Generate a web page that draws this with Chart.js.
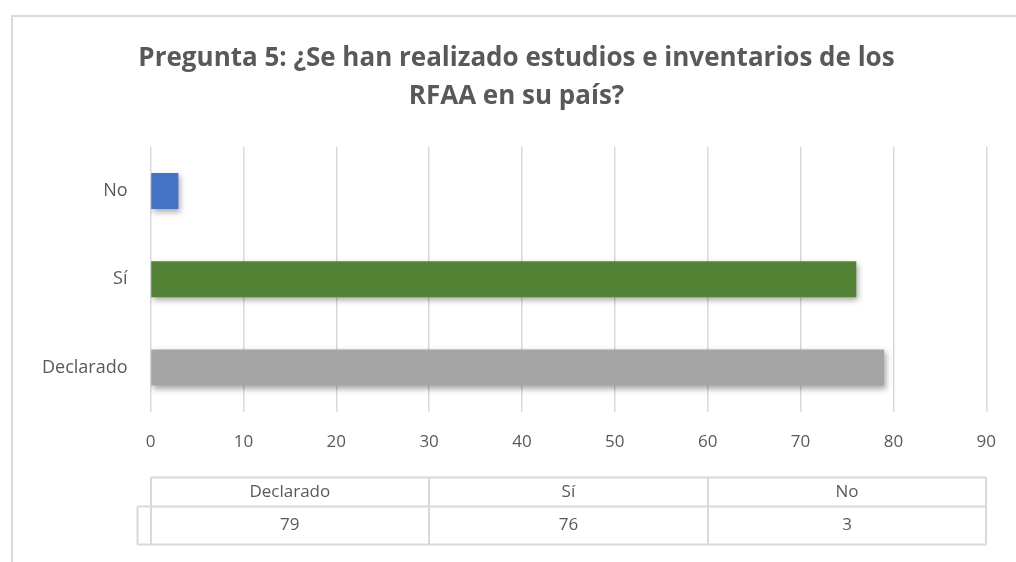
<!DOCTYPE html>
<html>
<head>
<meta charset="utf-8">
<script src="https://cdn.jsdelivr.net/npm/chart.js@4.4.0/dist/chart.umd.min.js"></script>
<style>
  html, body { margin: 0; padding: 0; background: #fff; }
  #wrap { width: 1016px; height: 562px; position: relative; }
</style>
</head>
<body>
<div id="wrap"><canvas id="chart"></canvas></div>
<script>
const categories = ['Declarado', 'Sí', 'No'];
const values = [79, 76, 3];
const barColors = ['#a5a5a5', '#548235', '#4472c4'];
const titleLines = ['Pregunta 5: ¿Se han realizado estudios e inventarios de los', 'RFAA en su país?'];

const FONT = '"Open Sans", "Liberation Sans", sans-serif';
const TEXT = '#595959';
const GRID = '#d9d9d9';

// frame round the chart
const framePlugin = {
  id: 'frame',
  beforeDraw(chart) {
    const ctx = chart.ctx;
    ctx.save();
    ctx.strokeStyle = GRID;
    ctx.lineWidth = 2;
    ctx.beginPath();
    ctx.moveTo(12, 600);
    ctx.lineTo(12, 16);
    ctx.lineTo(1100, 16);
    ctx.stroke();
    ctx.restore();
  }
};

// soft shadow under the bars
const shadowPlugin = {
  id: 'barShadow',
  beforeDatasetsDraw(chart) {
    const ctx = chart.ctx;
    ctx.save();
    ctx.shadowColor = 'rgba(0,0,0,0.35)';
    ctx.shadowBlur = 6;
    ctx.shadowOffsetX = 2;
    ctx.shadowOffsetY = 3;
  },
  afterDatasetsDraw(chart) {
    chart.ctx.restore();
  }
};

// data table under the x axis
const tablePlugin = {
  id: 'dataTable',
  afterDraw(chart) {
    const ctx = chart.ctx;
    const a = chart.chartArea;
    const top = a.bottom + 66;
    const headH = 29;
    const bodyH = 38;
    const colW = (a.right - a.left) / categories.length;
    ctx.save();
    ctx.strokeStyle = GRID;
    ctx.lineWidth = 2;
    ctx.beginPath();
    ctx.moveTo(a.left, top); ctx.lineTo(a.right, top);
    ctx.moveTo(a.left - 13, top + headH); ctx.lineTo(a.right, top + headH);
    ctx.moveTo(a.left - 13, top + headH + bodyH); ctx.lineTo(a.right, top + headH + bodyH);
    for (let i = 0; i <= categories.length; i++) {
      const x = Math.round(a.left + i * colW);
      ctx.moveTo(x, top); ctx.lineTo(x, top + headH + bodyH);
    }
    ctx.moveTo(a.left - 13, top + headH); ctx.lineTo(a.left - 13, top + headH + bodyH);
    ctx.stroke();
    ctx.fillStyle = TEXT;
    ctx.font = '17px ' + FONT;
    ctx.textAlign = 'center';
    ctx.textBaseline = 'middle';
    categories.forEach((c, i) => {
      const cx = a.left + (i + 0.5) * colW;
      ctx.fillText(c, cx, top + headH / 2);
      ctx.fillText(String(values[i]), cx, top + headH + bodyH / 2);
    });
    ctx.restore();
  }
};

new Chart(document.getElementById('chart'), {
  type: 'bar',
  data: {
    labels: categories,
    datasets: [{
      data: values,
      backgroundColor: barColors,
      borderWidth: 0,
      barPercentage: 0.41,
      categoryPercentage: 1
    }]
  },
  options: {
    indexAxis: 'y',
    responsive: true,
    maintainAspectRatio: false,
    animation: false,
    layout: { padding: { left: 27, right: 10, top: 0, bottom: 90 } },
    plugins: {
      legend: { display: false },
      tooltip: { enabled: false },
      title: {
        display: true,
        text: titleLines,
        color: TEXT,
        font: { family: FONT, size: 26, weight: 'bold', lineHeight: 1.46 },
        padding: { top: 40, bottom: 31 }
      }
    },
    scales: {
      x: {
        min: 0,
        max: 90,
        ticks: { stepSize: 10, color: TEXT, font: { family: FONT, size: 17 }, padding: 20 },
        grid: { color: GRID, lineWidth: 1.5, drawTicks: false },
        border: { display: false }
      },
      y: {
        reverse: true,
        ticks: { color: TEXT, font: { family: FONT, size: 18 }, padding: 15 },
        grid: { display: false },
        border: { display: false }
      }
    }
  },
  plugins: [framePlugin, shadowPlugin, tablePlugin]
});
</script>
</body>
</html>
